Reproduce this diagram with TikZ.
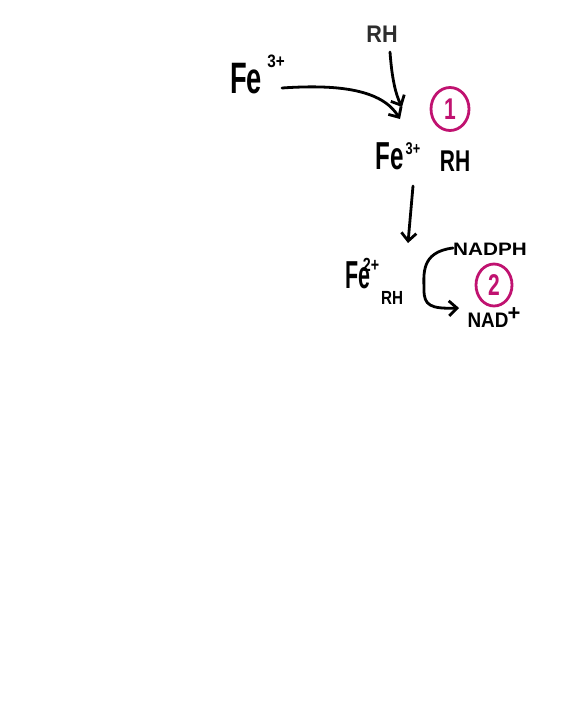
\documentclass[tikz,border=0pt]{standalone}
\usepackage{fontspec}
\setmainfont{Liberation Sans}
\usetikzlibrary{arrows.meta,shapes.geometric}
\definecolor{mag}{RGB}{192,18,112}
\definecolor{inkgray}{RGB}{45,45,45}
\newcommand{\hw}[3]{\scalebox{#2}[1]{\fontsize{#1}{#1}\selectfont\bfseries #3}}
\begin{document}
\begin{tikzpicture}[x=1pt,y=-1pt,
  lbl/.style={inner sep=0pt,outer sep=0pt,text=black},
  ink/.style={line width=2.8pt,line cap=round,line join=round,black,
    -{Straight Barb[length=8pt,width=15pt,line width=2.8pt]}},
  ring/.style={draw=mag,line width=2.8pt,ellipse,minimum width=38pt,minimum height=43pt,inner sep=0pt,text=mag}]
\useasboundingbox[fill=white] (0,0) rectangle (584,720);
% labels
\node[lbl] (fe1) at (246,79) {\hw{44}{0.62}{Fe}};
\node[lbl] (fe1c) at (276,61) {\hw{18}{0.85}{3+}};
\node[lbl,text=inkgray] (rh1) at (382,34) {\hw{24}{0.9}{RH}};
\node[lbl] (fe2) at (390,156) {\hw{39}{0.62}{Fe}};
\node[lbl] (fe2c) at (413,149) {\hw{17}{0.75}{3+}};
\node[lbl] (rh2) at (455,161) {\hw{30}{0.7}{RH}};
\node[lbl] (fe3) at (358,275) {\hw{39}{0.55}{Fe}};
\node[lbl] (fe3c) at (371,265) {\hw{19}{0.75}{2+}};
\node[lbl] (rh3) at (392,298) {\hw{19}{0.8}{RH}};
\node[lbl] (nadph) at (490,249) {\hw{18}{1.15}{NADPH}};
\node[lbl] (nad) at (488,320) {\hw{21}{0.9}{NAD}};
\node[lbl] (nadc) at (514,314) {\hw{22}{1}{+}};
% circled numbers
\node[ring] (c1) at (450,109) {\hw{30}{0.7}{1}};
\node[ring,minimum width=36pt,minimum height=42pt] (c2) at (494,285) {\hw{30}{0.7}{2}};
% connector end points
\coordinate (a1s) at (282,88);
\coordinate (a1e) at (400,119);
\coordinate (a2s) at (390,52);
\coordinate (a2e) at (402,107);
\coordinate (a3s) at (413,186);
\coordinate (a3e) at (408,243);
\coordinate (a4s) at (453,248);
\coordinate (a4e) at (459,308);
% connectors
\draw[ink] (a1s) .. controls (340,84) and (382,90) .. (a1e);
\draw[ink] (a2s) .. controls (392,80) and (396,95) .. (a2e);
\draw[ink] (a3s) -- (a3e);
\draw[ink] (a4s) .. controls (420,252) and (424,275) .. (424,290) .. controls (424,305) and (430,309) .. (a4e);
\end{tikzpicture}
\end{document}
